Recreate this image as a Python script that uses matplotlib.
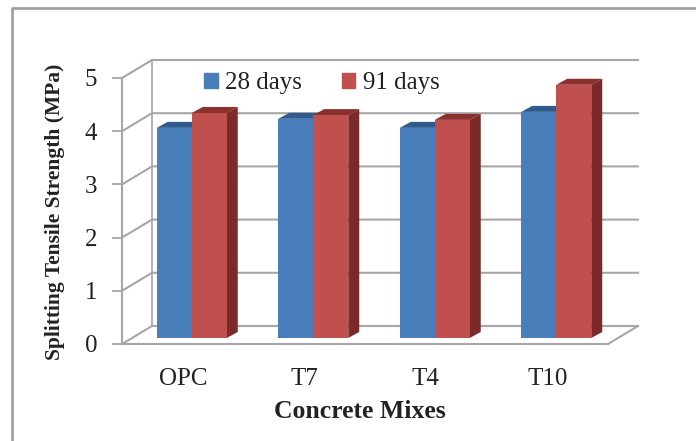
import matplotlib
matplotlib.use('Agg')
import matplotlib.pyplot as plt
from matplotlib.patches import Polygon, Rectangle

plt.rcParams['font.family'] = ['Liberation Serif', 'DejaVu Serif']

W, H = 696, 441

mixes = ['OPC', 'T7', 'T4', 'T10']
days_28 = [3.95, 4.12, 3.95, 4.25]
days_91 = [4.23, 4.19, 4.10, 4.76]
yticks = [0, 1, 2, 3, 4, 5]

blue, blue_top = '#4a7ebb', '#2f5b8e'
red, red_side, red_top = '#c0504d', '#7a2a28', '#8c302d'
grey = '#a6a6a6'
text_col = '#222222'

fig = plt.figure(figsize=(W / 100, H / 100), dpi=100)

# page frame, only top and left edges are inside the crop
fig.add_artist(plt.Line2D([12 / W, 12 / W, 1], [0, 1 - 8 / H, 1 - 8 / H], transform=fig.transFigure,
                          color='#a0a0a0', lw=2))

# axes box = front plane of the fake 3d chart
ax = fig.add_axes([122 / W, 1 - 344 / H, 486 / W, 266 / H])
ax.set_xlim(-0.5, 3.5)
ax.set_ylim(0, 5)
ax.patch.set_visible(False)

px = 4 / 486      # one pixel in x units
py = 5 / 266      # one pixel in y units
back_x, back_y = 30 * px, 18 * py

# back wall, side wall and floor lines
for v in yticks:
    ax.plot([-0.5, -0.5 + back_x, 3.5 + back_x], [v, v + back_y, v + back_y],
            color=grey, lw=1.5, clip_on=False, zorder=1)
ax.plot([-0.5 + back_x] * 2, [back_y, 5 + back_y], color=grey, lw=1.2, clip_on=False, zorder=1)
ax.plot([3.5, 3.5 + back_x], [0, back_y], color=grey, lw=1.5, clip_on=False, zorder=1)

# bars stand a little in from the front edge
base = 6 * py
shift = 9 * px
width = 35 * px
dx, dy = 11 * px, 6 * py


def draw_bars(xs, vals, face, top, side):
    ax.bar(xs, vals, width, bottom=base, align='edge', color=face, zorder=3, clip_on=False)
    for x, v in zip(xs, vals):
        t = base + v
        ax.add_patch(Polygon([(x, t), (x + dx, t + dy), (x + width + dx, t + dy), (x + width, t)],
                             fc=top, ec='none', zorder=2.5, clip_on=False))
        ax.add_patch(Polygon([(x + width, base), (x + width + dx, base + dy),
                              (x + width + dx, t + dy), (x + width, t)],
                             fc=side, ec='none', zorder=2.5, clip_on=False))


pos = list(range(len(mixes)))
draw_bars([p + shift - width for p in pos], days_28, blue, blue_top, '#2f5b8e')
draw_bars([p + shift for p in pos], days_91, red, red_top, red_side)

for name in ['top', 'right']:
    ax.spines[name].set_visible(False)
for name in ['left', 'bottom']:
    ax.spines[name].set_color(grey)
    ax.spines[name].set_linewidth(1.5)

ax.set_xticks(pos)
ax.set_xticklabels(mixes, fontsize=18, color=text_col)
ax.set_yticks(yticks)
ax.set_yticklabels(yticks, fontsize=18, color=text_col)
ax.tick_params(axis='y', length=7, width=1.3, color=grey, pad=11, direction='out')
ax.tick_params(axis='x', length=0, pad=17)

ax.set_xlabel('Concrete Mixes', fontsize=18.5, fontweight='bold', color=text_col)
ax.xaxis.set_label_coords(238 / 486, -56 / 266)
ax.set_ylabel('Splitting Tensile Strength (MPa)', fontsize=15.5, fontweight='bold', color=text_col)
ax.yaxis.set_label_coords(-57 / 486, 0.496)

# legend sits on the chart, over the top of the back wall
handles = [Rectangle((0, 0), 1, 1, color=blue), Rectangle((0, 0), 1, 1, color=red)]
leg = ax.legend(handles, ['28 days', '91 days'], loc='center left', bbox_to_anchor=(82 / 486, 261 / 266),
                ncol=2, frameon=False, fontsize=18, handlelength=0.55, handleheight=0.55,
                handletextpad=0.3, columnspacing=1.58, labelcolor=text_col, borderpad=0, borderaxespad=0)
leg.set_zorder(5)

fig.savefig('out.png', dpi=100)
